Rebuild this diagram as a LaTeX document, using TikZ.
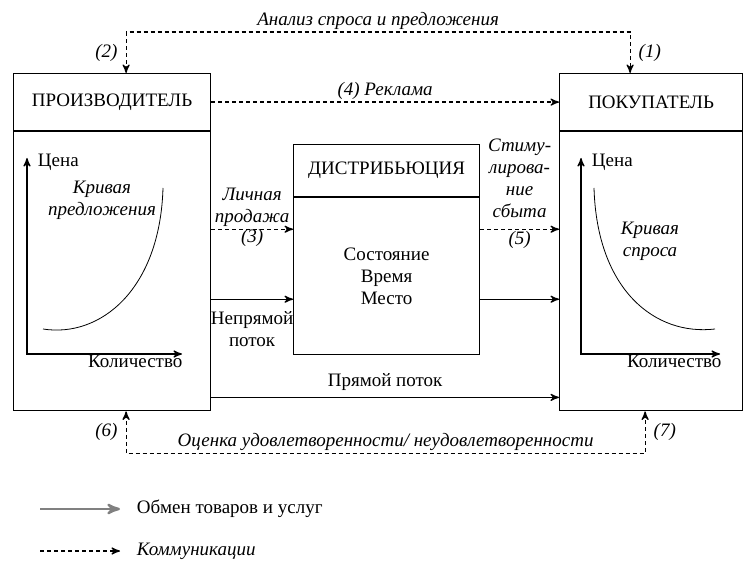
\documentclass[tikz,border=0pt]{standalone}
\usepackage{fontspec}
\setmainfont{Liberation Serif}
\usepackage{tikz}
\usetikzlibrary{positioning,arrows,calc}

\begin{document}
\fontsize{9.5}{11}\selectfont
\begin{tikzpicture}[x=0.5pt,y=-0.5pt,>=stealth',semithick,
                    comm/.style={->,dash pattern=on 2pt off 1.5pt},
                    flow/.style={->},
                    lbl/.style={font=\itshape,align=center,inner sep=1pt}]
  \tikzstyle{block}=[draw,rectangle,inner sep=0pt]
  \useasboundingbox (0,0) rectangle (744,561);

  % the three boxes
  \node[block,minimum width=98.5pt,minimum height=28.5pt,anchor=north west] (prodhead) at (13,73) {ПРОИЗВОДИТЕЛЬ};
  \node[block,minimum width=98.5pt,minimum height=139.5pt] (prodbody) [below=0pt of prodhead] {};
  \node[block,minimum width=91.5pt,minimum height=28.5pt,anchor=north west] (buyhead) at (559,73) {ПОКУПАТЕЛЬ};
  \node[block,minimum width=91.5pt,minimum height=139.5pt] (buybody) [below=0pt of buyhead] {};
  \node[block,minimum width=93pt,minimum height=26pt,anchor=north west] (disthead) at (293,144) {ДИСТРИБЬЮЦИЯ};
  \node[block,minimum width=93pt,minimum height=78.5pt,align=center] (distbody) [below=0pt of disthead] {Состояние\\Время\\Место};

  % supply curve
  \draw[<->] (27,158) -- (27,354) -- (182,354);
  \node[anchor=west] (sprice) at (31,162) {Цена};
  \node[anchor=north east,inner sep=1pt] (sqty) at (185,352) {Количество};
  \draw[thin] (43,329) .. controls (100,338) and (160,290) .. (163,188);
  \node[lbl] (scurve) at (102,200) {Кривая\\предложения};

  % demand curve
  \draw[<->] (581,158) -- (581,354) -- (720,354);
  \node[anchor=west] (dprice) at (585,162) {Цена};
  \node[anchor=north east,inner sep=1pt] (dqty) at (724,352) {Количество};
  \draw[thin] (594,188) .. controls (597,290) and (655,336) .. (715,329);
  \node[lbl] (dcurve) at (650,241) {Кривая\\спроса};

  % communications
  \draw[comm,<->] ($(prodhead.north)+(14,0)$) -- node[lbl,left=3pt] {(2)} ++(0,-41)
        -| node[lbl,pos=0.25,above] {Анализ спроса и предложения}
           node[lbl,pos=0.75,right=3pt] {(1)} ($(buyhead.north)+(-21,0)$);
  \draw[comm] (prodhead.east) -- node[lbl,above] {(4) Реклама} (buyhead.west);
  \coordinate (lp) at ($(distbody.north west)+(0,32)$);
  \draw[comm] (prodbody.east |- lp) -- node[lbl,above] {Личная\\продажа}
                                       node[lbl,below,inner sep=0pt] {(3)} (lp);
  \coordinate (sb) at ($(buybody.north west)+(0,98)$);
  \draw[comm] (distbody.east |- sb) -- node[lbl,above=4.5pt] {Стиму-\\лирова-\\ние\\сбыта}
                                       node[lbl,below=1pt,inner sep=0pt] {(5)} (sb);
  \draw[comm,<->] ($(prodbody.south)+(14,0)$) -- node[lbl,left=3pt] {(6)} ++(0,42)
        -| node[lbl,pos=0.25,above] {Оценка удовлетворенности/ неудовлетворенности}
           node[lbl,pos=0.75,right=3pt] {(7)} ($(buybody.south)+(-6,0)$);

  % flows of goods
  \coordinate (np) at ($(distbody.north west)+(0,102)$);
  \draw[flow] (prodbody.east |- np) -- node[below=4pt,align=center,inner sep=2pt] {Непрямой\\поток} (np);
  \coordinate (dp) at ($(buybody.north west)+(0,168)$);
  \draw[flow] (distbody.east |- dp) -- (dp);
  \coordinate (pp) at ($(buybody.south west)+(0,-14)$);
  \draw[flow] (prodbody.east |- pp) -- node[above] {Прямой поток} (pp);

  % legend
  \coordinate (lega) at (40,509);
  \node[anchor=west] (leg1) at (130,509) {Обмен товаров и услуг};
  \draw[flow,gray,line width=1.2pt,shorten >=5pt] (lega) -- (leg1.west);
  \coordinate (legb) at (40,551);
  \node[anchor=west,font=\itshape] (leg2) at (130,551) {Коммуникации};
  \draw[comm,shorten >=5pt] (legb) -- (leg2.west);
\end{tikzpicture}
\end{document}
